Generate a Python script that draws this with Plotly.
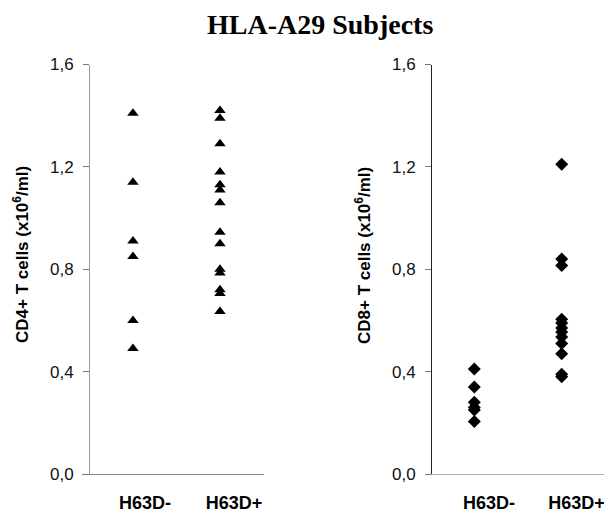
import plotly.graph_objects as go

groups = ["H63D-", "H63D+"]
cd4_neg = [1.41, 1.14, 0.91, 0.85, 0.60, 0.49]
cd4_pos = [1.42, 1.39, 1.29, 1.18, 1.13, 1.11, 1.06, 0.945, 0.90, 0.80, 0.785, 0.72, 0.705, 0.635]
cd8_neg = [0.41, 0.34, 0.28, 0.26, 0.25, 0.205]
cd8_pos = [1.21, 0.84, 0.815, 0.605, 0.59, 0.57, 0.555, 0.535, 0.51, 0.47, 0.39, 0.38]
ytick_vals = [0.0, 0.4, 0.8, 1.2, 1.6]
ytick_text = ["0,0", "0,4", "0,8", "1,2", "1,6"]

W, H = 612, 514
OFF = 8  # page body margin

fig = go.Figure()

def px_x(v):
    return (v - OFF) / W

def px_y(v):
    return 1 - (v - OFF) / H

fig.add_trace(go.Scatter(x=[1] * len(cd4_neg), y=cd4_neg, mode="markers",
                         marker=dict(symbol="triangle-up", size=10, color="black"),
                         xaxis="x", yaxis="y", showlegend=False))
fig.add_trace(go.Scatter(x=[2] * len(cd4_pos), y=cd4_pos, mode="markers",
                         marker=dict(symbol="triangle-up", size=10, color="black"),
                         xaxis="x", yaxis="y", showlegend=False))
fig.add_trace(go.Scatter(x=[1] * len(cd8_neg), y=cd8_neg, mode="markers",
                         marker=dict(symbol="diamond", size=10, color="black"),
                         xaxis="x2", yaxis="y2", showlegend=False))
fig.add_trace(go.Scatter(x=[2] * len(cd8_pos), y=cd8_pos, mode="markers",
                         marker=dict(symbol="diamond", size=10, color="black"),
                         xaxis="x2", yaxis="y2", showlegend=False))

ydom = [px_y(474), px_y(64.5)]
tickfont = dict(family="Arial, Liberation Sans, sans-serif", size=17, color="#111")
common_y = dict(range=[0, 1.6], tickvals=ytick_vals, ticktext=ytick_text, ticks="outside",
                ticklen=6, tickcolor="#777", showgrid=False, zeroline=False, showline=True,
                tickfont=tickfont, ticklabelstandoff=6, automargin=False)
xfont = dict(family="Arial, Liberation Sans, sans-serif", size=18, color="black", weight="bold")
fig.update_layout(
    width=W, height=H, margin=dict(l=0, r=0, t=0, b=0, autoexpand=False),
    paper_bgcolor="white", plot_bgcolor="white",
    xaxis=dict(domain=[px_x(82), px_x(264)], range=[0.414, 2.506], showgrid=False, zeroline=False,
               showline=True, linecolor="#8a8a8a", linewidth=1, tickvals=[1.138, 2.161], ticktext=groups,
               ticks="", tickfont=xfont, ticklabelstandoff=12, automargin=False, anchor="y"),
    yaxis=dict(domain=ydom, anchor="free", position=px_x(89),
               linecolor="#9a9a9a", linewidth=1, **common_y),
    xaxis2=dict(domain=[px_x(432), px_x(604)], range=[0.516, 2.484], showgrid=False, zeroline=False,
                showline=True, linecolor="#b0b0b0", linewidth=1, tickvals=[1.168, 2.17], ticktext=groups,
                ticks="", tickfont=xfont, ticklabelstandoff=12, anchor="y2", automargin=False),
    yaxis2=dict(domain=ydom, anchor="x2", linecolor="#222", linewidth=1, **common_y),
    annotations=[
        dict(text="<b>HLA-A29 Subjects</b>", x=px_x(320), y=px_y(24), xref="paper", yref="paper",
             xanchor="center", yanchor="middle", showarrow=False,
             font=dict(family="Liberation Serif, Times New Roman, serif", size=28, color="black")),
        dict(text="<b>CD4+ T cells (x10<sup>6</sup>/ml)</b>", x=px_x(21), y=px_y(255), xref="paper", yref="paper",
             xanchor="center", yanchor="middle", showarrow=False, textangle=-90,
             font=dict(family="Arial, Liberation Sans, sans-serif", size=17, color="black")),
        dict(text="<b>CD8+ T cells (x10<sup>6</sup>/ml)</b>", x=px_x(363), y=px_y(256), xref="paper", yref="paper",
             xanchor="center", yanchor="middle", showarrow=False, textangle=-90,
             font=dict(family="Arial, Liberation Sans, sans-serif", size=17, color="black")),
    ],
)

fig.write_html("out.html")
